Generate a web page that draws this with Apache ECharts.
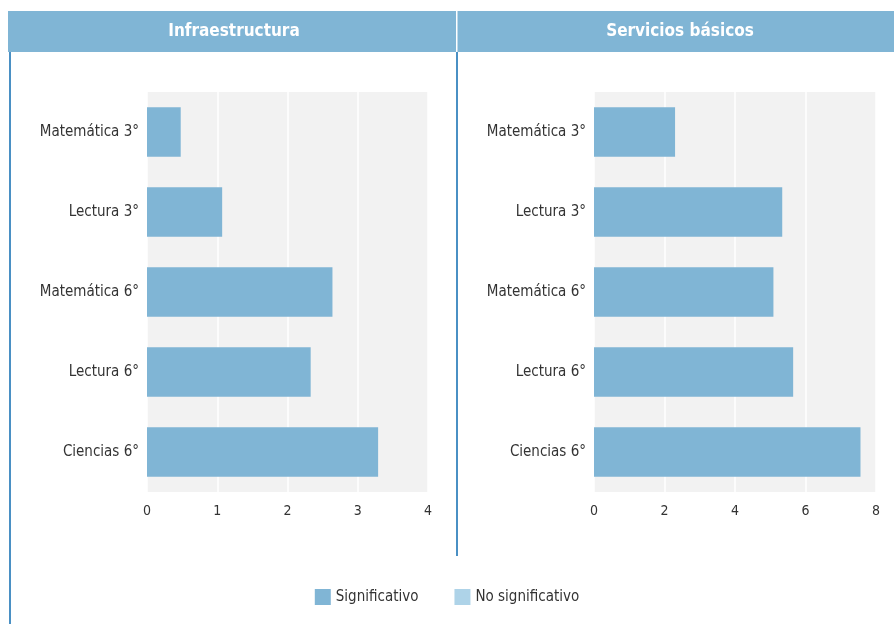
<!DOCTYPE html>
<html>
<head>
<meta charset="utf-8">
<script src="https://cdn.jsdelivr.net/npm/echarts@6/dist/echarts.min.js"></script>
<style>
  html, body { margin: 0; padding: 0; background: #fff; }
  #main { width: 894px; height: 624px; }
</style>
</head>
<body>
<div id="main"></div>
<script>
const categories = ['Matemática 3°', 'Lectura 3°', 'Matemática 6°', 'Lectura 6°', 'Ciencias 6°'];
const panelTitles = ['Infraestructura', 'Servicios básicos'];
const infraSignif = [0.48, 1.07, 2.64, 2.33, 3.29];
const serviciosSignif = [2.3, 5.34, 5.09, 5.65, 7.56];
const infraTicks = { min: 0, max: 4, interval: 1 };
const serviciosTicks = { min: 0, max: 8, interval: 2 };

const blue = '#80b5d5';
const lightBlue = '#aed3e8';
const font = 'DejaVu Sans Condensed';

const chart = echarts.init(document.getElementById('main'));

function xAx(idx, t) {
  return {
    type: 'value', gridIndex: idx, min: t.min, max: t.max, interval: t.interval,
    axisLine: { show: false }, axisTick: { show: false },
    splitLine: { lineStyle: { color: '#ffffff', width: 1.5 } },
    axisLabel: { color: '#333', fontFamily: font, fontSize: 14, margin: 12 }
  };
}
function yAx(idx) {
  return {
    type: 'category', gridIndex: idx, data: categories, inverse: true,
    axisLine: { show: false }, axisTick: { show: false },
    axisLabel: { color: '#333', fontFamily: font, fontSize: 15, margin: 8 }
  };
}

chart.setOption({
  animation: false,
  graphic: [
    { type: 'rect', shape: { x: 8, y: 11, width: 886, height: 41 }, style: { fill: blue } },
    { type: 'rect', shape: { x: 456, y: 11, width: 1.5, height: 41 }, style: { fill: '#ffffff' } },
    { type: 'rect', shape: { x: 9, y: 52, width: 2, height: 572 }, style: { fill: '#4a90c4' } },
    { type: 'rect', shape: { x: 456, y: 52, width: 2, height: 504 }, style: { fill: '#4a90c4' } },
    { type: 'text', x: 234, y: 32, style: { text: panelTitles[0], fill: '#fff', font: 'bold 17px "' + font + '"', align: 'center', verticalAlign: 'middle' } },
    { type: 'text', x: 680, y: 32, style: { text: panelTitles[1], fill: '#fff', font: 'bold 17px "' + font + '"', align: 'center', verticalAlign: 'middle' } }
  ],
  legend: {
    top: 584, left: 'center', itemWidth: 16, itemHeight: 16, itemGap: 36,
    textStyle: { color: '#333', fontFamily: font, fontSize: 15 },
    data: [
      { name: 'Significativo', icon: 'rect', itemStyle: { color: blue } },
      { name: 'No significativo', icon: 'rect', itemStyle: { color: lightBlue } }
    ]
  },
  grid: [
    { left: 147, width: 281, top: 92, height: 400, show: true, backgroundColor: '#f2f2f2', borderWidth: 0 },
    { left: 594, width: 282, top: 92, height: 400, show: true, backgroundColor: '#f2f2f2', borderWidth: 0 }
  ],
  xAxis: [xAx(0, infraTicks), xAx(1, serviciosTicks)],
  yAxis: [yAx(0), yAx(1)],
  series: [
    { name: 'Significativo', type: 'bar', stack: 'a', xAxisIndex: 0, yAxisIndex: 0, data: infraSignif, barCategoryGap: '38%', itemStyle: { color: blue } },
    { name: 'No significativo', type: 'bar', stack: 'a', xAxisIndex: 0, yAxisIndex: 0, data: [], itemStyle: { color: lightBlue } },
    { name: 'Significativo', type: 'bar', stack: 'b', xAxisIndex: 1, yAxisIndex: 1, data: serviciosSignif, barCategoryGap: '38%', itemStyle: { color: blue } }
  ]
});
</script>
</body>
</html>
